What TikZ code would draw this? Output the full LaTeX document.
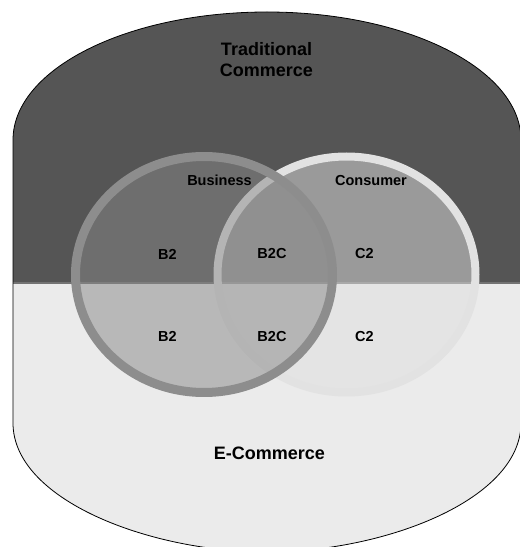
\documentclass[tikz,border=0pt]{standalone}
\usepackage{fontspec}
\setmainfont{Liberation Sans}
\usepackage{tikz}
\definecolor{colTop}{gray}{.333}
\definecolor{colBot}{gray}{.92}
\definecolor{colLfill}{gray}{.53}
\definecolor{colLring}{gray}{.553}
\definecolor{colRfill}{gray}{.875}
\definecolor{colRring}{gray}{.886}
\tikzstyle{bigtext}=[font=\fontsize{18}{21}\selectfont\bfseries, align=center, inner sep=0pt]
\tikzstyle{smalltext}=[font=\fontsize{14.5}{17}\selectfont\bfseries, inner sep=0pt]
\tikzstyle{ringL}=[draw=colLring, line width=9pt]
\tikzstyle{ringR}=[draw=colRring, line width=8pt]

\begin{document}
\begin{tikzpicture}[x=1pt,y=1pt]
	\useasboundingbox (0,0) rectangle (520,547);

	%%% Outer shape, two halves
	\draw[line width=.8pt, path picture={
			\fill[colTop] (0,264) rectangle (530,560);
			\fill[colBot] (0,-20) rectangle (530,264);
			\draw[gray!90!black, line width=1.2pt] (0,264) -- (530,264);
		}]
		(13,407) arc[start angle=180, end angle=0, x radius=254, y radius=128]
		-- (521,124) .. controls (521,47) and (384,-5) .. (267,-5)
		.. controls (150,-5) and (13,47) .. (13,124) -- cycle;

	%%% Consumer
	\fill[colRfill, fill opacity=.5] (346.5,272.5) ellipse[x radius=129, y radius=118];
	\draw[ringR] (346.5,272.5) ellipse[x radius=129, y radius=118];
	%%% Business
	\fill[colLfill, fill opacity=.5] (204,272.5) ellipse[x radius=128.5, y radius=118];
	\draw[ringL] (204,272.5) ellipse[x radius=128.5, y radius=118];

	%%% Labels
	\node[bigtext]   (tc)  at (266.5,487)  {Traditional\\Commerce};
	\node[bigtext]   (ec)  at (269.5,93.5) {E-Commerce};
	\node[smalltext] (bus) at (219.5,366.3) {Business};
	\node[smalltext] (con) at (371,366.3)   {Consumer};
	% top row
	\node[smalltext] (b2t)  at (167.5,293) {B2};
	\node[smalltext] (b2ct) at (272,293)   {B2C};
	\node[smalltext] (c2t)  at (364.5,293) {C2};
	% bottom row
	\node[smalltext] (b2b)  at (167.5,210.5) {B2};
	\node[smalltext] (b2cb) at (272,210.5)   {B2C};
	\node[smalltext] (c2b)  at (364.5,210.5) {C2};
\end{tikzpicture}
\end{document}
